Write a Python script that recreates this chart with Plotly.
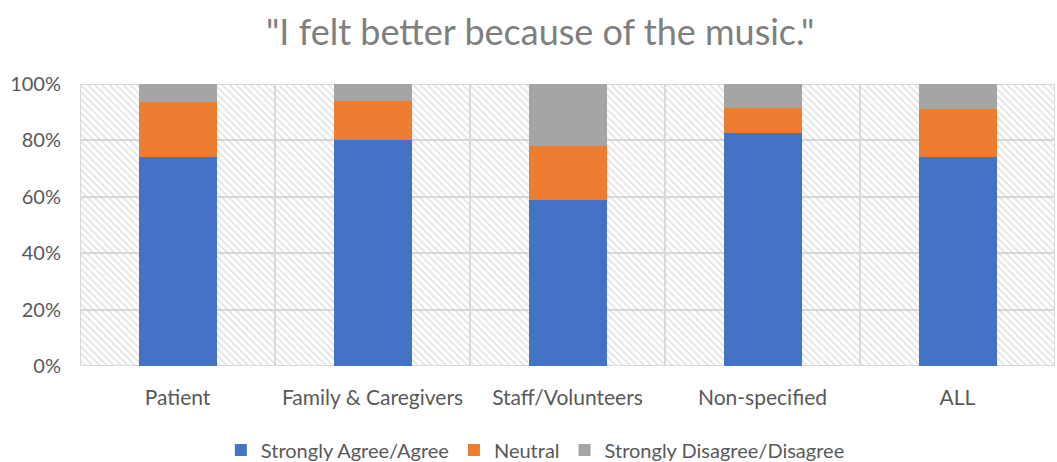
import plotly.graph_objects as go

categories = ["Patient", "Family & Caregivers", "Staff/Volunteers", "Non-specified", "ALL"]
agree = [0.74, 0.80, 0.59, 0.825, 0.74]
neutral = [0.195, 0.14, 0.19, 0.09, 0.17]
disagree = [0.065, 0.06, 0.22, 0.085, 0.09]
series_names = ["Strongly Agree/Agree", "Neutral", "Strongly Disagree/Disagree"]
series_colors = ["#4472C4", "#ED7D31", "#A5A5A5"]
y_ticks = [0, 0.2, 0.4, 0.6, 0.8, 1.0]

fig = go.Figure()

# hatched background cells on the main axes
fig.add_trace(go.Bar(
    x=categories, y=[1.0] * len(categories), width=1,
    marker=dict(color="rgba(0,0,0,0)",
                line=dict(color="#d9d9d9", width=1.5),
                pattern=dict(shape="\\", fgcolor="#cccccc", bgcolor="rgba(0,0,0,0)",
                             size=5, solidity=0.4)),
    showlegend=False, hoverinfo="skip", xaxis="x", yaxis="y",
))

for name, vals, col in zip(series_names, [agree, neutral, disagree], series_colors):
    fig.add_trace(go.Bar(
        x=categories, y=vals, name=name, marker=dict(color=col, line=dict(width=0)),
        xaxis="x2", yaxis="y2",
    ))

font_family = "Lato, Noto Sans, sans-serif"
fig.update_layout(
    width=1057, height=462,
    margin=dict(l=80, r=2, t=84, b=96, autoexpand=False),
    paper_bgcolor="white", plot_bgcolor="white",
    barmode="stack", bargap=0.6,
    title=dict(text='"I felt better because of the music."', x=0.511, xanchor="center",
               yref="container", y=1 - 32 / 462, yanchor="middle",
               font=dict(family=font_family, size=36, color="#7f7f7f")),
    font=dict(family=font_family, size=20, color="#595959"),
    xaxis=dict(type="category", categoryarray=categories, range=[-0.5, 4.5],
               showticklabels=False, showgrid=False, zeroline=False, showline=False,
               fixedrange=True),
    yaxis=dict(range=[0, 1.0], tickvals=y_ticks, tickformat=".0%",
               showgrid=True, gridcolor="#d9d9d9", gridwidth=1.5, zeroline=False,
               showline=False, ticklabelstandoff=18,
               tickfont=dict(size=20, color="#595959")),
    xaxis2=dict(type="category", categoryarray=categories, range=[-0.5, 4.5],
                overlaying="x", side="bottom", showgrid=False, zeroline=False,
                showline=False, ticklabelstandoff=17,
                tickfont=dict(size=21, color="#595959")),
    yaxis2=dict(range=[0, 1.0], overlaying="y", showgrid=False, showticklabels=False,
                zeroline=False, showline=False),
    legend=dict(orientation="h", x=0.467, xanchor="center",
                yref="container", y=(462 - 450) / 462, yanchor="middle",
                traceorder="normal", font=dict(size=20, color="#595959"),
                itemwidth=30),
    showlegend=True,
)

fig.write_html("out.html")
